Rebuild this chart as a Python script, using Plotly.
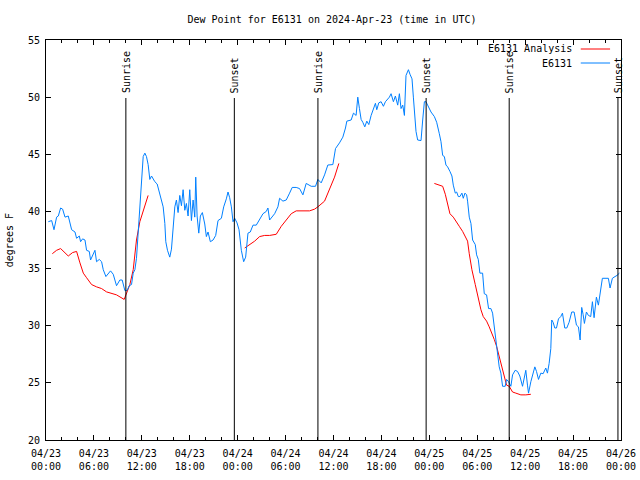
import pandas as pd
import plotly.graph_objects as go

# ---------------- data ----------------
base_time = "2024-04-23 00:00"

obs_hours = [0.29, 0.71, 1.0, 1.33, 1.54, 1.83, 2.08, 2.38, 2.79, 3.21, 3.63, 3.83, 4.17, 4.33, 4.58, 4.88,
             5.08, 5.42, 5.58, 5.92, 6.13, 6.33, 6.67, 6.96, 7.17, 7.5, 7.79, 8.08, 8.42, 8.83, 9.25, 9.54,
             9.88, 10.17, 10.42, 10.71, 10.92, 11.13, 11.33, 11.54, 11.75, 11.96, 12.17, 12.38, 12.58, 12.79,
             13.0, 13.21, 13.63, 13.92, 14.17, 14.46, 14.67, 14.88, 15.0, 15.21, 15.5, 15.71, 15.83, 16.0,
             16.13, 16.33, 16.54, 16.75, 16.96, 17.17, 17.38, 17.58, 17.79, 18.0, 18.21, 18.42, 18.63, 18.75,
             18.92, 19.13, 19.33, 19.58, 19.88, 20.08, 20.29, 20.58, 20.92, 21.25, 21.54, 21.96, 22.25, 22.58,
             22.79, 23.0, 23.21, 23.42, 23.63, 23.92, 24.17, 24.46, 24.75, 25.0, 25.29, 25.58, 25.92, 26.33,
             26.75, 27.17, 27.58, 27.79, 28.0, 28.33, 28.63, 29.04, 29.25, 29.67, 30.08, 30.5, 30.83, 31.33,
             31.75, 32.17, 32.58, 33.21, 33.75, 34.04, 34.46, 34.88, 35.29, 35.92, 36.25, 36.75, 37.17, 37.5,
             37.67, 38.21, 38.5, 38.83, 39.04, 39.25, 39.46, 39.67, 39.92, 40.17, 40.42, 40.71, 41.0, 41.25,
             41.42, 41.67, 41.96, 42.25, 42.5, 43.0, 43.21, 43.5, 43.75, 44.04, 44.25, 44.46, 44.67, 44.88,
             45.08, 45.38, 45.58, 45.83, 46.0, 46.17, 46.33, 46.54, 46.75, 46.96, 47.17, 47.38, 47.58, 47.79,
             48.21, 48.63, 48.92, 49.25, 49.46, 49.67, 49.88, 50.08, 50.29, 50.58, 50.83, 51.0, 51.25, 51.42,
             51.63, 51.83, 52.08, 52.25, 52.46, 52.67, 52.79, 53.0, 53.21, 53.42, 53.75, 53.92, 54.13, 54.33,
             54.67, 54.88, 55.17, 55.42, 55.71, 55.92, 56.13, 56.25, 56.42, 56.54, 56.75, 56.96, 57.17, 57.5,
             57.67, 57.92, 58.21, 58.42, 58.75, 59.04, 59.33, 59.67, 59.88, 60.08, 60.29, 60.42, 60.71, 60.92,
             61.21, 61.42, 61.67, 61.96, 62.25, 62.58, 62.79, 63.0, 63.21, 63.33, 63.5, 63.71, 63.92, 64.17,
             64.46, 64.67, 64.96, 65.21, 65.5, 65.83, 66.13, 66.42, 66.67, 66.88, 67.08, 67.25, 67.42, 67.67,
             67.92, 68.21, 68.42, 68.63, 68.92, 69.17, 69.38, 69.67, 70.0, 70.42, 70.63, 70.92, 71.25, 71.5,
             71.8]
obs_values = [39.1, 39.2, 38.4, 39.5, 39.6, 40.3, 40.2, 39.5, 39.6, 38.4, 38.2, 37.65, 37.85, 37.35, 37.6, 37.5,
              36.6, 36.5, 35.75, 36.2, 36.6, 35.6, 35.8, 35.6, 34.9, 34.3, 34.6, 34.8, 34.5, 33.5, 34.0, 34.0,
              33.07, 33.1, 33.5, 33.6, 34.6, 34.9, 35.9, 38.2, 39.8, 42.9, 44.8, 45.1, 44.8, 44.1,
              42.8, 43.1, 42.6, 42.4, 41.7, 41.0, 40.4, 38.95, 37.35, 36.6, 36.0, 36.7, 37.9, 38.9,
              40.4, 41.0, 39.9, 41.4, 40.5, 41.9, 40.1, 40.7, 39.6, 41.9, 39.2, 41.0, 39.5, 43.0,
              39.6, 38.1, 39.6, 39.9, 38.9, 37.8, 38.2, 37.35, 37.5, 37.9, 39.2, 39.4, 40.4, 41.1,
              41.7, 41.2, 40.4, 39.1, 39.4, 39.0, 38.4, 36.6, 35.6, 36.0, 38.1, 38.2, 38.8, 38.8,
              39.3, 39.8, 40.0, 40.3, 39.25, 39.6, 39.8, 40.4, 41.15, 40.9, 41.0, 41.6, 42.1, 42.1,
              42.0, 41.45, 42.45, 42.2, 42.2, 42.8, 42.5, 43.2, 44.06, 44.1, 45.5, 46.0, 46.5, 47.3,
              47.9, 48.0, 48.6, 48.4, 50.0, 49.0, 48.05, 47.8, 47.4, 47.9, 47.6, 48.4, 48.9, 49.46,
              48.9, 49.5, 49.6, 49.2, 49.6, 50.0, 50.3, 49.6, 50.1, 49.3, 50.3, 49.0, 49.3, 48.4,
              51.9, 52.4, 52.0, 51.6, 50.0, 48.15, 47.0, 46.25, 46.2, 46.2, 48.0, 49.6, 49.6, 49.3,
              48.7, 48.3, 47.8, 46.8, 46.1, 44.9, 44.8, 44.06, 43.9, 43.5, 43.1, 42.3, 41.6, 41.7,
              41.3, 41.3, 41.6, 41.15, 41.6, 41.45, 40.9, 39.5, 38.95, 37.5, 37.1, 36.2, 35.8, 34.6,
              34.6, 32.8, 32.7, 31.5, 31.5, 31.1, 29.9, 29.05, 28.0, 27.3, 26.4, 25.85, 24.7, 24.7,
              25.3, 25.1, 24.7, 25.7, 26.1, 26.0, 25.6, 24.7, 25.3, 26.1, 24.8, 24.1, 25.1, 25.7,
              26.4, 26.0, 25.3, 25.85, 25.8, 26.3, 25.85, 26.7, 28.0, 30.5, 30.3, 29.8, 29.8, 30.6,
              30.8, 31.1, 29.8, 29.8, 30.3, 31.2, 31.2, 30.05, 29.9, 28.75, 31.6, 31.0, 30.2, 31.2,
              30.9, 30.8, 32.1, 30.7, 32.5, 31.8, 32.8, 34.15, 34.15, 34.15, 33.3, 34.15, 34.3, 34.4,
              34.6]

# analysis series (None = gap between analysis runs)
ana_hours = [0.79, 1.33, 1.83, 2.79, 3.33, 3.83, 4.25, 4.67, 5.08, 5.71, 6.33, 6.96, 7.58, 8.08, 8.83, 9.79,
             10.17, 10.5, 10.92, 11.33, 11.75, 12.17, 12.79, 18.0,
             24.88, 25.5, 26.13, 26.75, 27.38, 28.0, 28.83, 29.46, 30.08, 30.71, 31.33, 32.17, 33.0, 33.63,
             34.04, 34.88, 35.5, 36.13, 36.67, 42.0,
             48.63, 49.17, 49.67, 50.0, 50.29, 50.58, 51.0, 51.42, 51.75, 52.17, 52.58, 52.79, 53.0, 53.33,
             53.75, 54.04, 54.46, 54.75, 55.17, 55.5, 55.83, 56.13, 56.42, 56.75, 57.08, 57.38, 57.67, 58.0,
             58.42, 58.83, 59.46, 60.08, 60.71]
ana_values = [36.3, 36.6, 36.75, 36.1, 36.4, 36.5, 35.5, 34.6, 34.2, 33.6, 33.4, 33.25, 32.96, 32.85, 32.7, 32.3,
              33.0, 33.6, 34.9, 37.5, 39.1, 40.1, 41.4, None,
              36.8, 37.1, 37.4, 37.8, 37.9, 37.9, 38.0, 38.7, 39.3, 39.8, 40.05, 40.05, 40.05, 40.2,
              40.4, 40.9, 41.9, 43.0, 44.2, None,
              42.45, 42.3, 42.2, 41.5, 40.7, 39.8, 39.5, 39.1, 38.7, 38.25, 37.7, 37.4, 36.3, 34.9,
              33.6, 32.6, 31.4, 30.8, 30.4, 29.9, 29.4, 28.8, 28.2, 27.3, 26.4, 25.6, 24.8, 24.7,
              24.2, 24.1, 23.95, 23.95, 24.0]

sun_times = ["2024-04-23 10:00", "2024-04-23 23:35", "2024-04-24 10:03",
             "2024-04-24 23:36", "2024-04-25 10:00", "2024-04-25 23:37"]
sun_labels = ["Sunrise", "Sunset", "Sunrise", "Sunset", "Sunrise", "Sunset"]

tick_times = ["2024-04-23 00:00", "2024-04-23 06:00", "2024-04-23 12:00", "2024-04-23 18:00",
              "2024-04-24 00:00", "2024-04-24 06:00", "2024-04-24 12:00", "2024-04-24 18:00",
              "2024-04-25 00:00", "2024-04-25 06:00", "2024-04-25 12:00", "2024-04-25 18:00",
              "2024-04-26 00:00"]
tick_labels = ["04/23<br>00:00", "04/23<br>06:00", "04/23<br>12:00", "04/23<br>18:00",
               "04/24<br>00:00", "04/24<br>06:00", "04/24<br>12:00", "04/24<br>18:00",
               "04/25<br>00:00", "04/25<br>06:00", "04/25<br>12:00", "04/25<br>18:00",
               "04/26<br>00:00"]
y_ticks = [20, 25, 30, 35, 40, 45, 50, 55]

# ---------------- build ----------------
t0 = pd.Timestamp(base_time)
obs_t = [t0 + pd.Timedelta(hours=h) for h in obs_hours]
ana_t = [t0 + pd.Timedelta(hours=h) for h in ana_hours]

FONT = "DejaVu Sans Mono"
BLUE = "#0080ff"
RED = "#ff0000"

W, H = 640, 480

fig = go.Figure()
fig.add_trace(go.Scatter(x=ana_t, y=ana_values, mode="lines", name="E6131 Analysis",
                         line=dict(color=RED, width=1), connectgaps=False))
fig.add_trace(go.Scatter(x=obs_t, y=obs_values, mode="lines", name="E6131",
                         line=dict(color=BLUE, width=1)))

for t, lab in zip(sun_times, sun_labels):
    fig.add_shape(type="line", xref="x", yref="paper", x0=t, x1=t, y0=0, y1=0.855,
                  line=dict(color="black", width=1))
    fig.add_annotation(x=t, xref="x", y=0.862, yref="paper", text=lab, textangle=-90,
                       showarrow=False, xanchor="center", yanchor="bottom",
                       font=dict(family=FONT, size=10, color="black"))

# legend drawn gnuplot-style (text right, sample line at right)
legend_names = ["E6131 Analysis", "E6131"]
legend_colors = [RED, BLUE]
for i, (nm, col) in enumerate(zip(legend_names, legend_colors)):
    yy = 0.9775 - i * 0.035
    fig.add_annotation(x=0.918, xref="paper", y=yy, yref="paper", text=nm, showarrow=False,
                       xanchor="right", yanchor="middle",
                       font=dict(family=FONT, size=10, color="black"))
    fig.add_shape(type="line", xref="paper", yref="paper", x0=0.930, x1=0.981, y0=yy, y1=yy,
                  line=dict(color=col, width=1))

fig.add_annotation(x=-0.064, xref="paper", y=0.5, yref="paper", text="degrees F", textangle=-90,
                   showarrow=False, xanchor="center", yanchor="middle",
                   font=dict(family=FONT, size=10, color="black"))

fig.update_layout(
    width=W, height=H,
    margin=dict(l=46, r=19, t=40, b=40),
    paper_bgcolor="white", plot_bgcolor="white",
    showlegend=False,
    font=dict(family=FONT, size=10, color="black"),
    title=dict(text="Dew Point for E6131 on 2024-Apr-23 (time in UTC)", x=332 / W,
               xanchor="center", y=1 - 19 / H, yanchor="middle", yref="container",
               font=dict(family=FONT, size=10, color="black")),
    xaxis=dict(type="date", range=[tick_times[0], tick_times[-1]],
               tickvals=tick_times, ticktext=tick_labels,
               ticks="inside", ticklen=5, tickcolor="black", tickwidth=1, ticklabelstandoff=4,
               minor=dict(dtick=2 * 3600 * 1000, ticks="inside", ticklen=3, tickcolor="black",
                          showgrid=False),
               showgrid=False, zeroline=False, showline=True, linecolor="black", linewidth=1,
               mirror="allticks", automargin=False, tickfont=dict(family=FONT, size=10)),
    yaxis=dict(range=[20, 55], tickvals=y_ticks, ticks="inside", ticklen=5, tickcolor="black",
               tickwidth=1, ticklabelstandoff=3, showgrid=False, zeroline=False, showline=True,
               linecolor="black", linewidth=1, mirror="allticks", automargin=False,
               tickfont=dict(family=FONT, size=10)),
)

# remove the page's default body margin so the 640x480 figure fills the window exactly
fig.write_html("out.html", config={"displayModeBar": False},
               post_script="document.body.style.margin='0';document.body.style.overflow='hidden';")
